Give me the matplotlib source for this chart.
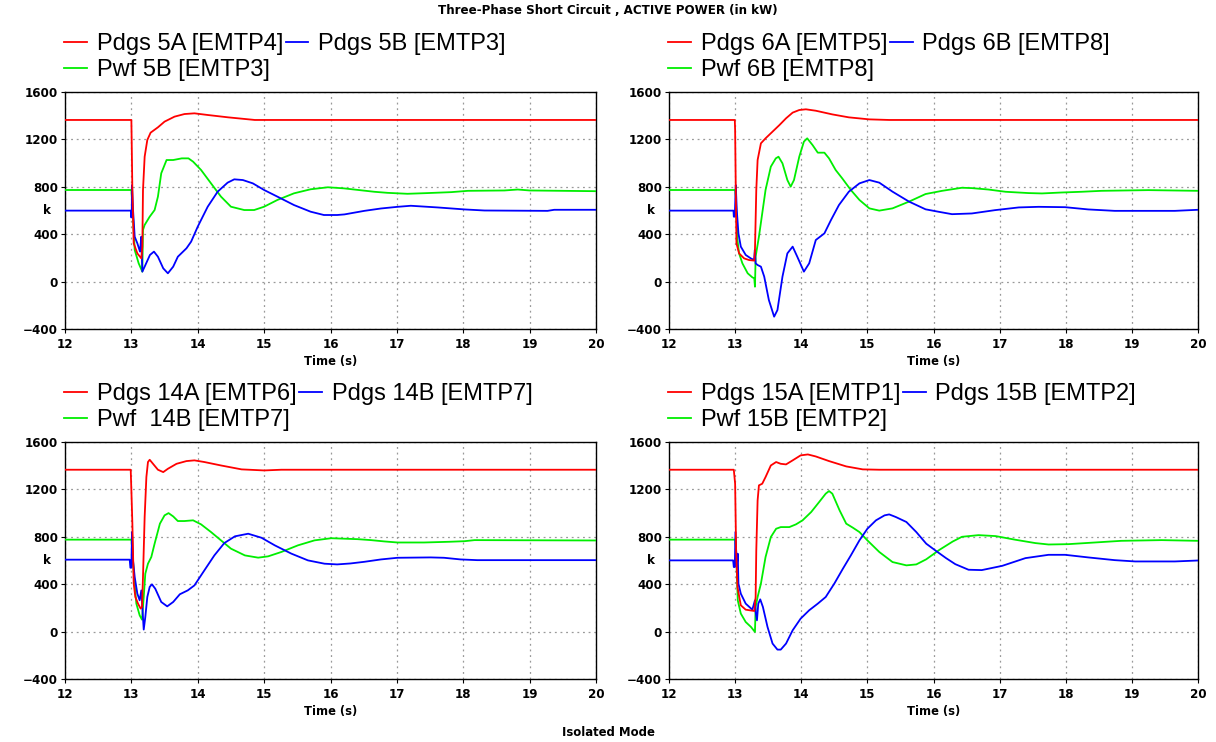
import matplotlib
matplotlib.use("Agg")
import matplotlib.pyplot as plt

plt.rcParams['font.family'] = ['Liberation Sans', 'DejaVu Sans']

# ---------------- data ----------------
# Top-left panel (5A / 5B)
tl_red_t = [12.0, 13.0, 13.015, 13.035, 13.09, 13.15, 13.165, 13.175, 13.2, 13.24, 13.29, 13.40, 13.50, 13.65, 13.80, 13.95, 14.15, 14.46, 14.86, 20.0]
tl_red_v = [1364, 1364, 773, 323, 238, 196, 295, 773, 1054, 1195, 1257, 1302, 1350, 1392, 1414, 1420, 1406, 1386, 1364, 1364]
tl_grn_t = [12.0, 13.0, 13.025, 13.05, 13.11, 13.165, 13.175, 13.2, 13.276, 13.35, 13.40, 13.45, 13.53, 13.63, 13.76, 13.86, 13.93, 14.05, 14.20, 14.35, 14.50, 14.70, 14.85, 15.0, 15.2, 15.45, 15.70, 15.96, 16.2, 16.31, 16.66, 16.86, 17.16, 17.46, 17.82, 18.07, 18.62, 18.82, 19.0, 20.0]
tl_grn_v = [773, 773, 548, 267, 154, 84, 436, 478, 548, 604, 717, 914, 1026, 1026, 1040, 1040, 1012, 942, 829, 717, 632, 604, 604, 632, 689, 745, 779, 796, 787, 780, 758, 749, 741, 747, 755, 766, 769, 777, 769, 763]
tl_blu_t = [12.0, 12.995, 12.996, 13.005, 13.01, 13.025, 13.05, 13.09, 13.13, 13.15, 13.165, 13.2, 13.28, 13.34, 13.40, 13.48, 13.55, 13.63, 13.70, 13.83, 13.90, 14.0, 14.15, 14.30, 14.45, 14.55, 14.68, 14.83, 15.0, 15.2, 15.45, 15.70, 15.90, 16.1, 16.21, 16.51, 16.76, 17.01, 17.21, 17.61, 18.02, 18.32, 19.27, 19.37, 20.0]
tl_blu_v = [599, 599, 542, 542, 815, 604, 379, 323, 253, 379, 84, 126, 225, 253, 210, 112, 70, 126, 210, 281, 337, 464, 632, 759, 835, 863, 857, 829, 773, 717, 646, 590, 562, 562, 567, 597, 617, 631, 640, 626, 609, 600, 597, 606, 606]

# Top-right panel (6A / 6B)
tr_red_t = [12.0, 12.995, 13.0, 13.01, 13.02, 13.06, 13.136, 13.21, 13.29, 13.30, 13.32, 13.34, 13.39, 13.46, 13.565, 13.67, 13.77, 13.87, 13.97, 14.07, 14.22, 14.47, 14.72, 15.03, 15.33, 20.0]
tr_red_v = [1364, 1364, 1279, 773, 323, 238, 196, 182, 177, 267, 773, 1026, 1167, 1209, 1265, 1321, 1378, 1426, 1448, 1454, 1442, 1411, 1386, 1369, 1364, 1364]
tr_grn_t = [12.0, 13.0, 13.01, 13.035, 13.06, 13.11, 13.19, 13.26, 13.29, 13.30, 13.31, 13.36, 13.41, 13.46, 13.54, 13.615, 13.656, 13.716, 13.79, 13.84, 13.89, 13.97, 14.04, 14.09, 14.17, 14.25, 14.35, 14.42, 14.52, 14.62, 14.75, 14.88, 15.03, 15.18, 15.38, 15.63, 15.88, 16.13, 16.43, 16.58, 16.83, 17.09, 17.44, 17.64, 17.94, 18.24, 18.54, 19.25, 20.0]
tr_grn_v = [773, 773, 717, 351, 238, 154, 70, 36, 28, -43, 210, 379, 576, 773, 970, 1040, 1054, 998, 857, 801, 857, 1054, 1181, 1209, 1153, 1088, 1088, 1040, 942, 871, 773, 689, 618, 599, 618, 675, 739, 766, 792, 789, 777, 758, 747, 744, 752, 758, 766, 772, 766]
tr_blu_t = [12.0, 12.975, 12.98, 12.995, 13.01, 13.025, 13.05, 13.086, 13.16, 13.237, 13.287, 13.298, 13.31, 13.34, 13.39, 13.44, 13.51, 13.59, 13.64, 13.716, 13.79, 13.87, 13.94, 14.04, 14.12, 14.22, 14.35, 14.45, 14.57, 14.72, 14.88, 15.03, 15.18, 15.38, 15.63, 15.88, 16.08, 16.28, 16.58, 16.93, 17.29, 17.59, 17.99, 18.34, 18.74, 19.65, 20.0]
tr_blu_v = [599, 599, 548, 548, 815, 604, 407, 295, 225, 196, 182, 267, 154, 140, 126, 42, -155, -296, -240, 42, 238, 295, 210, 84, 154, 351, 407, 520, 646, 759, 829, 857, 835, 759, 675, 610, 589, 569, 575, 603, 626, 631, 628, 609, 597, 597, 606]

# Bottom-left panel (14A / 14B)
bl_red_t = [12.0, 12.99, 13.0, 13.015, 13.035, 13.06, 13.10, 13.14, 13.16, 13.175, 13.2, 13.226, 13.25, 13.276, 13.326, 13.40, 13.48, 13.55, 13.68, 13.83, 13.95, 14.10, 14.35, 14.66, 15.0, 15.26, 20.0]
bl_red_v = [1366, 1366, 1192, 911, 405, 292, 236, 194, 208, 461, 967, 1304, 1431, 1450, 1416, 1366, 1346, 1374, 1416, 1439, 1445, 1431, 1402, 1369, 1360, 1366, 1366]
bl_grn_t = [12.0, 13.0, 13.015, 13.04, 13.075, 13.125, 13.16, 13.186, 13.21, 13.25, 13.30, 13.35, 13.43, 13.50, 13.56, 13.63, 13.70, 13.80, 13.93, 14.05, 14.20, 14.35, 14.50, 14.71, 14.91, 15.06, 15.26, 15.51, 15.76, 16.01, 16.41, 16.61, 16.81, 17.01, 17.41, 17.79, 18.02, 18.17, 20.0]
bl_grn_v = [776, 776, 686, 461, 236, 137, 101, 292, 489, 573, 629, 742, 911, 981, 1000, 972, 933, 933, 939, 905, 840, 770, 700, 643, 624, 635, 672, 728, 770, 788, 780, 772, 761, 752, 752, 758, 763, 772, 769]
bl_blu_t = [12.0, 12.975, 12.985, 13.0, 13.01, 13.025, 13.05, 13.09, 13.125, 13.15, 13.165, 13.186, 13.21, 13.24, 13.276, 13.31, 13.36, 13.45, 13.54, 13.63, 13.73, 13.85, 13.95, 14.10, 14.25, 14.40, 14.56, 14.76, 14.96, 15.16, 15.41, 15.66, 15.91, 16.1, 16.3, 16.51, 16.76, 17.01, 17.51, 17.71, 17.96, 18.21, 20.0]
bl_blu_v = [607, 607, 539, 539, 840, 601, 461, 320, 264, 348, 208, 17, 123, 292, 377, 399, 362, 250, 213, 250, 315, 348, 390, 517, 643, 747, 804, 826, 792, 728, 658, 601, 573, 567, 575, 589, 609, 623, 626, 623, 609, 603, 603]

# Bottom-right panel (15A / 15B)
br_red_t = [12.0, 12.98, 13.0, 13.015, 13.035, 13.086, 13.16, 13.29, 13.31, 13.32, 13.34, 13.36, 13.41, 13.46, 13.54, 13.62, 13.69, 13.77, 13.87, 13.99, 14.10, 14.22, 14.42, 14.68, 14.93, 15.18, 20.0]
br_red_v = [1366, 1366, 1248, 686, 376, 222, 185, 174, 292, 686, 1107, 1234, 1248, 1304, 1402, 1431, 1416, 1411, 1445, 1487, 1495, 1478, 1439, 1394, 1369, 1366, 1366]
br_grn_t = [12.0, 13.0, 13.015, 13.04, 13.086, 13.16, 13.24, 13.30, 13.31, 13.34, 13.39, 13.46, 13.54, 13.62, 13.69, 13.82, 13.92, 14.02, 14.15, 14.27, 14.37, 14.42, 14.47, 14.58, 14.68, 14.78, 14.88, 15.0, 15.18, 15.38, 15.59, 15.74, 15.89, 16.09, 16.29, 16.43, 16.68, 16.94, 17.24, 17.54, 17.74, 18.04, 18.44, 18.84, 19.45, 20.0]
br_grn_v = [776, 776, 686, 264, 152, 81, 39, -3, 208, 292, 405, 629, 798, 868, 882, 882, 905, 939, 1009, 1093, 1164, 1186, 1164, 1023, 911, 877, 840, 770, 672, 587, 559, 567, 610, 690, 760, 800, 814, 806, 775, 747, 735, 738, 752, 766, 772, 766]
br_blu_t = [12.0, 12.97, 12.98, 12.995, 13.005, 13.025, 13.04, 13.05, 13.086, 13.16, 13.26, 13.30, 13.31, 13.33, 13.35, 13.38, 13.42, 13.49, 13.566, 13.64, 13.69, 13.77, 13.87, 13.99, 14.12, 14.25, 14.37, 14.5, 14.63, 14.75, 14.88, 15.0, 15.13, 15.26, 15.33, 15.43, 15.59, 15.74, 15.89, 16.04, 16.19, 16.33, 16.53, 16.73, 17.04, 17.39, 17.74, 17.99, 18.34, 18.74, 19.05, 19.65, 20.0]
br_blu_v = [601, 601, 545, 545, 840, 545, 657, 405, 320, 236, 185, 264, 166, 95, 236, 272, 208, 39, -101, -152, -152, -101, 11, 109, 180, 236, 292, 405, 531, 643, 770, 868, 939, 981, 989, 967, 925, 840, 742, 680, 620, 569, 522, 519, 555, 620, 648, 648, 626, 603, 592, 592, 600]

panel_labels = [
    ("Pdgs 5A [EMTP4]", "Pdgs 5B [EMTP3]", "Pwf 5B [EMTP3]"),
    ("Pdgs 6A [EMTP5]", "Pdgs 6B [EMTP8]", "Pwf 6B [EMTP8]"),
    ("Pdgs 14A [EMTP6]", "Pdgs 14B [EMTP7]", "Pwf  14B [EMTP7]"),
    ("Pdgs 15A [EMTP1]", "Pdgs 15B [EMTP2]", "Pwf 15B [EMTP2]"),
]
panel_data = [
    (tl_red_t, tl_red_v, tl_blu_t, tl_blu_v, tl_grn_t, tl_grn_v),
    (tr_red_t, tr_red_v, tr_blu_t, tr_blu_v, tr_grn_t, tr_grn_v),
    (bl_red_t, bl_red_v, bl_blu_t, bl_blu_v, bl_grn_t, bl_grn_v),
    (br_red_t, br_red_v, br_blu_t, br_blu_v, br_grn_t, br_grn_v),
]
x_ticks = [12, 13, 14, 15, 16, 17, 18, 19, 20]
y_ticks = [-400, 0, 400, 800, 1200, 1600]

title = "Three-Phase Short Circuit , ACTIVE POWER (in kW)"
footer = "Isolated Mode"

# ---------------- figure ----------------
W, H = 1216, 742
fig = plt.figure(figsize=(W / 100, H / 100), dpi=100)

def frect(x0, y0, x1, y1):
    return [x0 / W, 1 - y1 / H, (x1 - x0) / W, (y1 - y0) / H]

rects = [frect(65, 92, 596, 329), frect(669, 92, 1198, 329),
         frect(65, 442, 596, 679), frect(669, 442, 1198, 679)]

RED, BLUE, GREEN = '#ff0000', '#0000ff', '#00ee00'
SMALL = dict(family=['DejaVu Sans'], weight='bold')

for rect, data, labels in zip(rects, panel_data, panel_labels):
    ax = fig.add_axes(rect)
    rt, rv, bt, bv, gt, gv = data
    lg, = ax.plot(gt, gv, color=GREEN, lw=1.3, zorder=3)
    lb, = ax.plot(bt, bv, color=BLUE, lw=1.3, zorder=4)
    lr, = ax.plot(rt, rv, color=RED, lw=1.3, zorder=5)
    ax.set_xlim(12, 20)
    ax.set_ylim(-400, 1600)
    ax.set_xticks(x_ticks)
    ax.set_yticks(y_ticks)
    ax.grid(True, color='#999999', linestyle=(0, (1.5, 3)), lw=0.9)
    for s in ax.spines.values():
        s.set_color('black')
        s.set_linewidth(1.0)
    ax.tick_params(axis='both', length=3, width=0.8, colors='black')
    ax.tick_params(axis='x', pad=3.5)
    ax.tick_params(axis='y', pad=2.0)
    for lab in ax.get_xticklabels() + ax.get_yticklabels():
        lab.set_fontfamily(['DejaVu Sans'])
        lab.set_fontweight('bold')
        lab.set_fontsize(8.6)
    ax.set_xlabel("Time (s)", fontsize=8.3, labelpad=3, **SMALL)
    ax.set_ylabel("k", fontsize=8.6, rotation=0, va='center', ha='center', **SMALL)
    ax.yaxis.set_label_coords(-0.034, 0.5)
    ax.legend([lr, lg, lb], [labels[0], labels[2], labels[1]], ncol=2,
              loc='lower left', bbox_to_anchor=(-0.001, 1.045), frameon=False,
              fontsize=17, handlelength=0.97, handletextpad=0.42,
              columnspacing=0.08, labelspacing=0.18, borderpad=0.0,
              borderaxespad=0.0)

fig.text(608 / W, 1 - 11 / H, title, ha='center', va='center', fontsize=8.6, **SMALL)
fig.text(608 / W, 1 - 732 / H, footer, ha='center', va='center', fontsize=8.4, **SMALL)

fig.savefig("out.png", dpi=100)
